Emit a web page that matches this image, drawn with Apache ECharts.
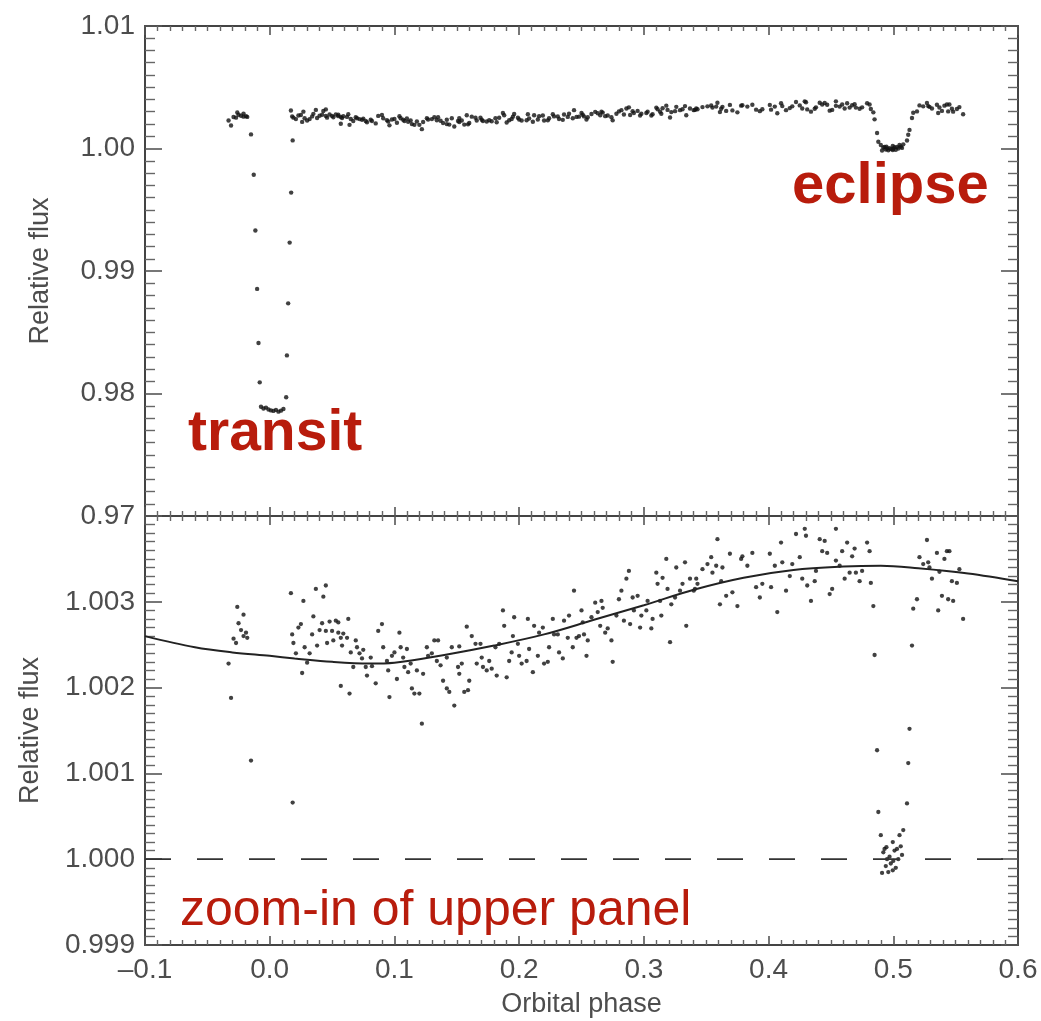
<!DOCTYPE html>
<html>
<head>
<meta charset="utf-8">
<title>Orbital phase light curve</title>
<script src="https://cdn.jsdelivr.net/npm/echarts@6/dist/echarts.min.js"></script>
<style>
  html, body { margin: 0; padding: 0; background: #ffffff; }
  #chart { width: 1041px; height: 1021px; }
</style>
</head>
<body>
<div id="chart"></div>
<script>
// Phase-folded photometry: [orbital phase, relative flux]
const preTransit = [
  [-0.033, 1.00228], [-0.031, 1.00188], [-0.029, 1.00257], [-0.027, 1.00252],
  [-0.026, 1.00294], [-0.025, 1.00275], [-0.023, 1.00267], [-0.021, 1.00285],
  [-0.021, 1.00260], [-0.019, 1.00264], [-0.018, 1.00258]
];
const transitIngress = [
  [-0.0150, 1.00115], [-0.0128, 0.99786], [-0.0115, 0.99331],
  [-0.0101, 0.98854], [-0.0090, 0.98412], [-0.0080, 0.98091]
];
const transitFloor = [
  [-0.007, 0.97892], [-0.005, 0.97878], [-0.003, 0.97885], [-0.001, 0.97870],
  [0.001, 0.97862], [0.003, 0.97858], [0.005, 0.97866], [0.007, 0.97852],
  [0.009, 0.97860], [0.011, 0.97874]
];
const transitEgress = [
  [0.0132, 0.97970], [0.0138, 0.98311], [0.0148, 0.98736],
  [0.0160, 0.99232], [0.0172, 0.99640], [0.0184, 1.00066]
];
const baseline1 = [
  [0.017, 1.00310], [0.018, 1.00262], [0.019, 1.00252], [0.021, 1.00240], [0.023, 1.00270],
  [0.025, 1.00274], [0.026, 1.00217], [0.027, 1.00301], [0.028, 1.00247], [0.030, 1.00229],
  [0.032, 1.00240], [0.034, 1.00262], [0.035, 1.00283], [0.037, 1.00315], [0.038, 1.00249],
  [0.040, 1.00267], [0.042, 1.00275], [0.043, 1.00306], [0.045, 1.00319], [0.045, 1.00266],
  [0.046, 1.00252], [0.048, 1.00277], [0.050, 1.00266], [0.051, 1.00255], [0.053, 1.00278],
  [0.055, 1.00264], [0.055, 1.00276], [0.057, 1.00258], [0.057, 1.00202], [0.058, 1.00249],
  [0.059, 1.00263], [0.062, 1.00258], [0.063, 1.00280], [0.064, 1.00193], [0.065, 1.00241],
  [0.067, 1.00224], [0.069, 1.00255], [0.070, 1.00247], [0.072, 1.00240], [0.074, 1.00234],
  [0.075, 1.00244], [0.077, 1.00224], [0.078, 1.00214], [0.081, 1.00235], [0.082, 1.00225],
  [0.085, 1.00205], [0.087, 1.00266], [0.090, 1.00274], [0.091, 1.00247], [0.094, 1.00231],
  [0.095, 1.00220], [0.096, 1.00189], [0.098, 1.00237], [0.100, 1.00241], [0.102, 1.00210],
  [0.104, 1.00264], [0.105, 1.00247], [0.107, 1.00235], [0.108, 1.00224], [0.110, 1.00245],
  [0.111, 1.00218], [0.113, 1.00228], [0.114, 1.00199], [0.116, 1.00193], [0.118, 1.00220],
  [0.120, 1.00193], [0.122, 1.00158], [0.123, 1.00216], [0.126, 1.00247], [0.127, 1.00237],
  [0.130, 1.00240], [0.132, 1.00255], [0.134, 1.00231], [0.135, 1.00255], [0.137, 1.00226],
  [0.139, 1.00208]
];
const baseline2 = [
  [0.142, 1.00199], [0.142, 1.00235], [0.144, 1.00195], [0.146, 1.00247], [0.148, 1.00179],
  [0.151, 1.00224], [0.152, 1.00216], [0.152, 1.00248], [0.154, 1.00228], [0.156, 1.00195],
  [0.158, 1.00271], [0.159, 1.00197], [0.160, 1.00208], [0.162, 1.00260], [0.165, 1.00251],
  [0.166, 1.00228], [0.169, 1.00251], [0.170, 1.00235], [0.171, 1.00224], [0.174, 1.00220],
  [0.176, 1.00231], [0.178, 1.00222], [0.181, 1.00247], [0.182, 1.00214], [0.184, 1.00251],
  [0.187, 1.00290], [0.188, 1.00272], [0.190, 1.00212], [0.192, 1.00231], [0.194, 1.00241],
  [0.195, 1.00260], [0.196, 1.00282], [0.199, 1.00251], [0.200, 1.00237], [0.202, 1.00228],
  [0.206, 1.00231], [0.207, 1.00280], [0.208, 1.00245], [0.211, 1.00218], [0.212, 1.00272],
  [0.215, 1.00237], [0.216, 1.00264], [0.219, 1.00270], [0.220, 1.00228], [0.223, 1.00230],
  [0.224, 1.00247], [0.227, 1.00280], [0.228, 1.00262], [0.231, 1.00262], [0.232, 1.00241],
  [0.235, 1.00234], [0.236, 1.00278], [0.239, 1.00258], [0.240, 1.00284], [0.243, 1.00247],
  [0.244, 1.00313], [0.246, 1.00258], [0.248, 1.00260], [0.250, 1.00290], [0.251, 1.00276],
  [0.252, 1.00262], [0.254, 1.00237], [0.255, 1.00255], [0.258, 1.00282], [0.261, 1.00299],
  [0.263, 1.00288], [0.265, 1.00272], [0.266, 1.00301], [0.267, 1.00293], [0.269, 1.00264],
  [0.271, 1.00269], [0.274, 1.00255], [0.275, 1.00230], [0.278, 1.00284], [0.280, 1.00303],
  [0.282, 1.00313], [0.284, 1.00278], [0.286, 1.00327], [0.288, 1.00336], [0.289, 1.00274],
  [0.291, 1.00305], [0.292, 1.00290], [0.295, 1.00307], [0.297, 1.00270], [0.298, 1.00284],
  [0.302, 1.00290], [0.303, 1.00301], [0.306, 1.00269], [0.307, 1.00280], [0.310, 1.00334],
  [0.311, 1.00321], [0.313, 1.00301], [0.314, 1.00284], [0.315, 1.00328], [0.318, 1.00350],
  [0.319, 1.00315], [0.321, 1.00253], [0.322, 1.00297], [0.325, 1.00305], [0.326, 1.00340],
  [0.329, 1.00313], [0.331, 1.00321], [0.333, 1.00346], [0.334, 1.00272], [0.337, 1.00327],
  [0.340, 1.00313]
];
const baseline3 = [
  [0.341, 1.00315], [0.342, 1.00327], [0.343, 1.00321], [0.347, 1.00338], [0.351, 1.00344],
  [0.354, 1.00352], [0.355, 1.00334], [0.358, 1.00342], [0.359, 1.00373], [0.361, 1.00297],
  [0.362, 1.00324], [0.363, 1.00340], [0.366, 1.00307], [0.369, 1.00356], [0.371, 1.00311],
  [0.375, 1.00295], [0.378, 1.00350], [0.379, 1.00353], [0.383, 1.00342], [0.387, 1.00357],
  [0.390, 1.00317], [0.393, 1.00305], [0.395, 1.00321], [0.401, 1.00356], [0.402, 1.00317],
  [0.405, 1.00342], [0.407, 1.00288], [0.410, 1.00369], [0.411, 1.00346], [0.414, 1.00313],
  [0.417, 1.00330], [0.419, 1.00344], [0.422, 1.00379], [0.425, 1.00352], [0.427, 1.00327],
  [0.429, 1.00385], [0.430, 1.00377], [0.431, 1.00319], [0.434, 1.00301], [0.437, 1.00324],
  [0.438, 1.00336], [0.441, 1.00373], [0.443, 1.00359], [0.445, 1.00371], [0.447, 1.00357],
  [0.449, 1.00309], [0.451, 1.00315], [0.454, 1.00385], [0.454, 1.00348], [0.457, 1.00342],
  [0.459, 1.00359], [0.461, 1.00327], [0.463, 1.00369], [0.465, 1.00334], [0.467, 1.00353],
  [0.469, 1.00362], [0.470, 1.00334], [0.473, 1.00324], [0.475, 1.00336], [0.479, 1.00369],
  [0.481, 1.00359], [0.482, 1.00322]
];
const eclipse = [
  [0.484, 1.00295], [0.485, 1.00238], [0.487, 1.00127], [0.488, 1.00055], [0.490, 1.00028],
  [0.491, 0.99984], [0.492, 1.00008], [0.493, 1.00012], [0.494, 0.99992], [0.4945, 1.00014],
  [0.495, 1.00000], [0.496, 0.99985], [0.497, 1.00003], [0.498, 0.99995], [0.4996, 0.99987],
  [0.4996, 1.00020], [0.500, 0.99998], [0.501, 1.00010], [0.502, 0.99990], [0.503, 1.00012],
  [0.504, 1.00000], [0.505, 1.00028], [0.506, 1.00015], [0.507, 1.00005], [0.508, 1.00034],
  [0.511, 1.00065], [0.512, 1.00112], [0.513, 1.00152], [0.515, 1.00249]
];
const postEclipse = [
  [0.516, 1.00292], [0.519, 1.00303], [0.521, 1.00352], [0.524, 1.00344], [0.527, 1.00372],
  [0.528, 1.00346], [0.529, 1.00340], [0.531, 1.00327], [0.535, 1.00357], [0.536, 1.00290],
  [0.537, 1.00335], [0.539, 1.00307], [0.541, 1.00350], [0.543, 1.00359], [0.544, 1.00303],
  [0.545, 1.00359], [0.547, 1.00324], [0.548, 1.00301], [0.551, 1.00322], [0.553, 1.00338],
  [0.556, 1.00280]
];

// Phase-curve model drawn through the out-of-eclipse data
const modelPhase = [-0.10, -0.06, -0.03, 0.00, 0.02, 0.05, 0.08, 0.10, 0.14, 0.18, 0.22,
                    0.26, 0.30, 0.34, 0.38, 0.42, 0.46, 0.49, 0.52, 0.56, 0.60];
const modelFlux = [1.00260, 1.00247, 1.00241, 1.00237, 1.00234, 1.00230, 1.00228, 1.00229,
                   1.00238, 1.00249, 1.00262, 1.00279, 1.00296, 1.00314, 1.00328, 1.00337,
                   1.00341, 1.00342, 1.00339, 1.00333, 1.00324];

// Zero-depth reference level (stellar flux only)
const referencePhase = [-0.1, 0.6];
const referenceFlux = [1.000, 1.000];

// Axis ticks and their labels
const phaseTicks = [-0.1, 0.0, 0.1, 0.2, 0.3, 0.4, 0.5, 0.6];
const phaseTickLabels = ['\u20130.1', '0.0', '0.1', '0.2', '0.3', '0.4', '0.5', '0.6'];
const fluxTicksUpper = [0.97, 0.98, 0.99, 1.00, 1.01];
const fluxTickLabelsUpper = ['0.97', '0.98', '0.99', '1.00', '1.01'];
const fluxTicksLower = [0.999, 1.000, 1.001, 1.002, 1.003, 1.004];
const fluxTickLabelsLower = ['0.999', '1.000', '1.001', '1.002', '1.003', ''];

const observations = [].concat(preTransit, transitIngress, transitFloor, transitEgress,
  baseline1, baseline2, baseline3, eclipse, postEclipse);
const modelCurve = modelPhase.map((p, i) => [p, modelFlux[i]]);
const referenceLine = referencePhase.map((p, i) => [p, referenceFlux[i]]);

function lookup(ticks, labels) {
  return function (v) {
    for (let i = 0; i < ticks.length; i++) {
      if (Math.abs(ticks[i] - v) < 1e-7) return labels[i];
    }
    return '';
  };
}

const FONT = '"Liberation Sans", Helvetica, Arial, sans-serif';
const AXIS_COLOR = '#444444';
const LABEL_COLOR = '#4d4d4d';
const RED = '#b81c0c';

function frameAxis(extra) {
  return Object.assign({
    axisLine: { show: true, onZero: false, lineStyle: { color: AXIS_COLOR, width: 2 } },
    splitLine: { show: false },
    axisLabel: { show: false }
  }, extra);
}

function phaseAxis(gridIndex, position, showLabels) {
  return frameAxis({
    type: 'value', gridIndex: gridIndex, position: position,
    min: -0.1, max: 0.6, interval: 0.1,
    axisTick: { show: true, inside: true, length: 9, lineStyle: { color: '#555', width: 1.6 } },
    minorTick: { show: true, splitNumber: 10, length: 5, lineStyle: { color: '#666', width: 1.4 } },
    axisLabel: {
      show: showLabels, margin: 11, fontSize: 28, color: LABEL_COLOR, fontFamily: FONT,
      showMinLabel: true, showMaxLabel: true,
      formatter: lookup(phaseTicks, phaseTickLabels)
    },
    name: showLabels ? 'Orbital phase' : '',
    nameLocation: 'middle', nameGap: 46,
    nameTextStyle: { fontSize: 27, color: LABEL_COLOR, fontFamily: FONT }
  });
}

function fluxAxis(gridIndex, position, min, max, interval, ticks, labels, showLabels, nameGap) {
  return frameAxis({
    type: 'value', gridIndex: gridIndex, position: position,
    min: min, max: max, interval: interval,
    axisTick: { show: true, inside: true, length: 17, lineStyle: { color: '#555', width: 1.6 } },
    minorTick: { show: true, splitNumber: 10, length: 10, lineStyle: { color: '#666', width: 1.4 } },
    axisLabel: {
      show: showLabels, margin: 10, fontSize: 28, color: LABEL_COLOR, fontFamily: FONT,
      showMinLabel: true, showMaxLabel: true,
      formatter: lookup(ticks, labels)
    },
    name: showLabels ? 'Relative flux' : '',
    nameLocation: 'middle', nameGap: nameGap || 0, nameRotate: 90,
    nameTextStyle: { fontSize: 27, color: LABEL_COLOR, fontFamily: FONT }
  });
}

const chart = echarts.init(document.getElementById('chart'), null, { renderer: 'canvas' });

chart.setOption({
  backgroundColor: '#ffffff',
  animation: false,
  grid: [
    { left: 145, right: 23, top: 26, height: 490, containLabel: false },
    { left: 145, right: 23, top: 516, height: 429, containLabel: false }
  ],
  xAxis: [
    phaseAxis(0, 'bottom', false),
    phaseAxis(0, 'top', false),
    phaseAxis(1, 'bottom', true),
    phaseAxis(1, 'top', false)
  ],
  yAxis: [
    fluxAxis(0, 'left', 0.97, 1.01, 0.01, fluxTicksUpper, fluxTickLabelsUpper, true, 91),
    fluxAxis(0, 'right', 0.97, 1.01, 0.01, fluxTicksUpper, fluxTickLabelsUpper, false),
    fluxAxis(1, 'left', 0.999, 1.004, 0.001, fluxTicksLower, fluxTickLabelsLower, true, 101),
    fluxAxis(1, 'right', 0.999, 1.004, 0.001, fluxTicksLower, fluxTickLabelsLower, false)
  ],
  series: [
    {
      name: 'flux (full)', type: 'scatter', xAxisIndex: 0, yAxisIndex: 0,
      data: observations, symbol: 'circle', symbolSize: 4.4, clip: true,
      itemStyle: { color: '#111' }, silent: true
    },
    {
      name: 'reference', type: 'line', xAxisIndex: 2, yAxisIndex: 2,
      data: referenceLine, symbol: 'none',
      lineStyle: { color: '#333', width: 1.8, type: [26, 26] }, silent: true
    },
    {
      name: 'model', type: 'line', xAxisIndex: 2, yAxisIndex: 2,
      data: modelCurve, symbol: 'none', smooth: 0.35,
      lineStyle: { color: '#222', width: 2 }, silent: true
    },
    {
      name: 'flux (zoom)', type: 'scatter', xAxisIndex: 2, yAxisIndex: 2,
      data: observations, symbol: 'circle', symbolSize: 4.3, clip: true,
      itemStyle: { color: '#111' }, silent: true
    }
  ],
  graphic: [
    {
      type: 'text', left: 188, top: 406, silent: true,
      style: { text: 'transit', fill: RED, fontSize: 57, fontWeight: 'bold', fontFamily: FONT }
    },
    {
      type: 'text', left: 792, top: 158, silent: true,
      style: { text: 'eclipse', fill: RED, fontSize: 58, fontWeight: 'bold', fontFamily: FONT }
    },
    {
      type: 'text', left: 180, top: 886, silent: true,
      style: { text: 'zoom-in of upper panel', fill: RED, fontSize: 50, fontWeight: 'normal', fontFamily: FONT }
    }
  ]
});
</script>
</body>
</html>
